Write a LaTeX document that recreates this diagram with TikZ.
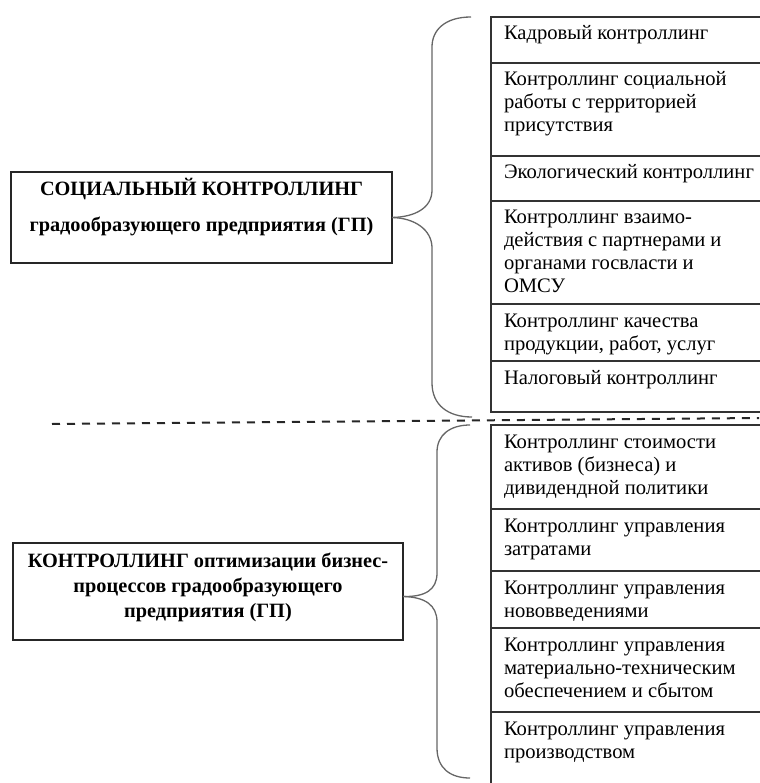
\documentclass[tikz,border=0pt]{standalone}
\usepackage{fontspec}
\setmainfont{Liberation Serif}
\usetikzlibrary{positioning}

\newcommand{\celltext}[2]{\parbox[t][#1][t]{262pt}{\raggedright\rule{0pt}{23pt}#2}}

\begin{document}
\begin{tikzpicture}[
    x=1pt, y=-1pt,
    cell/.style={rectangle, draw=black!80, line width=1.2pt, outer sep=0pt, inner xsep=13pt, inner ysep=0pt, font=\fontsize{20.6}{23}\selectfont},
    mainbox/.style={rectangle, draw=black!85, line width=1.2pt, outer sep=0pt, inner sep=0pt, anchor=north west, font=\bfseries\fontsize{20.3}{23}\selectfont},
    brace/.style={draw=black!60, line width=1.3pt},
    sep/.style={draw=black!85, line width=2pt, dash pattern=on 8pt off 7pt}
]
    \useasboundingbox (0,0) rectangle (759,783);

    \node[mainbox] (social) at (11,172) {\parbox[t][91pt][t]{381pt}{\centering\rule{0pt}{24pt}СОЦИАЛЬНЫЙ КОНТРОЛЛИНГ\\[13pt]градообразующего предприятия (ГП)}};
    \node[mainbox, font=\bfseries\fontsize{20.3}{25}\selectfont] (process) at (13,543) {\parbox[t][97pt][t]{390pt}{\centering\rule{0pt}{24pt}КОНТРОЛЛИНГ оптимизации бизнес-\\процессов градообразующего\\предприятия (ГП)}};

    \node[cell, anchor=north west] (soc1) at (491,17) {\celltext{46pt}{Кадровый контроллинг}};
    \node[cell, below=0pt of soc1] (soc2) {\celltext{93pt}{Контроллинг социальной\\работы с территорией\\присутствия}};
    \node[cell, below=0pt of soc2] (soc3) {\celltext{45pt}{Экологический контроллинг}};
    \node[cell, below=0pt of soc3] (soc4) {\celltext{103pt}{Контроллинг взаимо-\\действия с партнерами и\\органами госвласти и\\ОМСУ}};
    \node[cell, below=0pt of soc4] (soc5) {\celltext{57pt}{Контроллинг качества\\продукции, работ, услуг}};
    \node[cell, below=0pt of soc5] (soc6) {\celltext{51pt}{Налоговый контроллинг}};

    \node[cell, anchor=north west] (opt1) at (491,425) {\celltext{84pt}{Контроллинг стоимости\\активов (бизнеса) и\\дивидендной политики}};
    \node[cell, below=0pt of opt1] (opt2) {\celltext{62pt}{Контроллинг управления\\затратами}};
    \node[cell, below=0pt of opt2] (opt3) {\celltext{57pt}{Контроллинг управления\\нововведениями}};
    \node[cell, below=0pt of opt3] (opt4) {\celltext{84pt}{Контроллинг управления\\материально-техническим\\обеспечением и сбытом}};
    \node[cell, below=0pt of opt4] (opt5) {\celltext{80pt}{Контроллинг управления\\производством}};

    % braces
    \draw[brace] (social.east) .. controls (415,217) and (432,208) .. (432,190) -- (432,47) .. controls (432,30) and (445,17) .. (471,17);
    \draw[brace] (social.east) .. controls (415,218) and (432,230) .. (432,248) -- (432,383) .. controls (432,405) and (448,417) .. (472,417);
    \draw[brace] ([yshift=-5pt]process.east) .. controls (425,597) and (437,590) .. (437,573) -- (437,452) .. controls (437,435) and (450,425) .. (470,425);
    \draw[brace] ([yshift=-5pt]process.east) .. controls (425,597) and (437,605) .. (437,622) -- (437,748) .. controls (437,768) and (450,778) .. (470,778);

    \draw[sep] (52,424) -- (759,418);
\end{tikzpicture}
\end{document}
